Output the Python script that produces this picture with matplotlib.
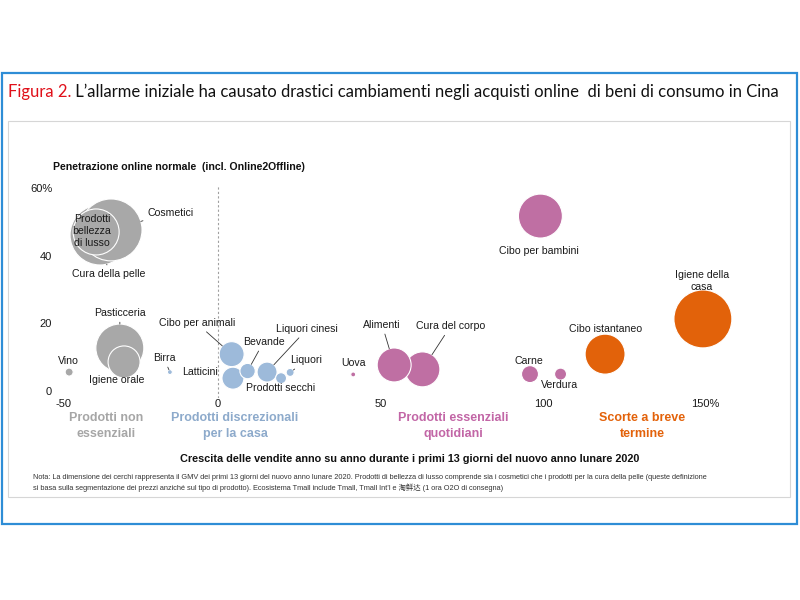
import numpy as np
import matplotlib
matplotlib.use('Agg')
import matplotlib.pyplot as plt
from matplotlib.patches import Rectangle

plt.rcParams['font.family'] = ['Liberation Sans', 'Noto Sans CJK SC', 'DejaVu Sans']

# data: crescita vendite (%), penetrazione online (%), GMV (relativo)
names = ['Cura della pelle', 'Cosmetici', 'Prodotti\nbellezza\ndi lusso', 'Pasticceria', 'Igiene orale', 'Vino',
         'Birra', 'Cibo per animali', 'Latticini', 'Bevande', 'Liquori cinesi', 'Prodotti secchi', 'Liquori',
         'Uova', 'Cura del corpo', 'Alimenti', 'Carne', 'Verdura', 'Cibo per bambini',
         'Cibo istantaneo', 'Igiene della\ncasa']
growth = [-36.3, -32.9, -37.5, -30.2, -28.9, -45.8,
          -14.8, 4.2, 4.6, 9.1, 15.1, 19.4, 22.2,
          41.6, 62.9, 54.2, 96.0, 105.4, 99.2,
          119.1, 149.2]
penetration = [46.1, 47.6, 47.0, 12.7, 8.6, 5.6,
               5.6, 10.9, 3.8, 5.9, 5.6, 3.8, 5.5,
               4.9, 6.4, 7.7, 5.0, 5.0, 51.7,
               10.9, 21.3]
gmv = [900, 960, 530, 576, 256, 16,
       6, 156, 121, 59, 100, 30, 16,
       6, 306, 289, 72, 36, 484,
       400, 841]
group = [0, 0, 0, 0, 0, 0,
         1, 1, 1, 1, 1, 1, 1,
         2, 2, 2, 2, 2, 2,
         3, 3]
groups = ['Prodotti non\nessenziali', 'Prodotti discrezionali\nper la casa',
          'Prodotti essenziali\nquotidiani', 'Scorte a breve\ntermine']
bubble_colors = ['#A8A8A8', '#9DBADA', '#BF6FA3', '#E2620A']
group_text_colors = ['#A6A6A6', '#8DAACB', '#C266A6', '#E3620A']
group_text_x = [106, 235, 453, 642]

x_ticks = [-50, 0, 50, 100, 150]
x_labels = ['-50', '0', '50', '100', '150%']
y_ticks = [0, 20, 40, 60]
y_labels = ['0', '20', '40', '60%']

# label placement: offset in pixels, alignment, leader line
label_pos = {
    'Cura della pelle': (9, -39, 'center', True),
    'Cosmetici': (36, 17, 'left', True),
    'Prodotti\nbellezza\ndi lusso': (-4, 1, 'center', False),
    'Pasticceria': (0, 35, 'center', True),
    'Igiene orale': (-7, -18, 'center', False),
    'Vino': (-1, 11, 'center', False),
    'Birra': (-6, 14, 'center', True),
    'Cibo per animali': (-35, 31, 'center', True),
    'Latticini': (-15, 6, 'right', False),
    'Bevande': (16, 29, 'center', True),
    'Liquori cinesi': (40, 43, 'center', True),
    'Prodotti secchi': (0, -10, 'center', False),
    'Liquori': (16, 12, 'center', True),
    'Uova': (0, 11, 'center', False),
    'Cura del corpo': (28, 43, 'center', True),
    'Alimenti': (-12, 40, 'center', True),
    'Carne': (-1, 13, 'center', False),
    'Verdura': (-1, -11, 'center', False),
    'Cibo per bambini': (-2, -35, 'center', False),
    'Cibo istantaneo': (0, 25, 'center', False),
    'Igiene della\ncasa': (-1, 38, 'center', False),
}

W, H = 800, 600
fig = plt.figure(figsize=(8, 6), dpi=100)

# frames
fig.add_artist(Rectangle((2 / W, 1 - 524 / H), 795 / W, 451 / H, transform=fig.transFigure,
                         fill=False, edgecolor='#2E8DD6', lw=1.6))
fig.add_artist(Rectangle((8 / W, 1 - 497 / H), 782 / W, 376 / H, transform=fig.transFigure,
                         fill=False, edgecolor='#D6D6D6', lw=0.8))

# title
title_font = ['Lato', 'DejaVu Sans']
t1 = fig.text(8 / W, 1 - 92 / H, 'Figura 2.', color='#E0101A', fontsize=12,
              family=title_font, va='center', ha='left')
fig.add_artist(plt.Annotation(' L\u2019allarme iniziale ha causato drastici cambiamenti negli acquisti online  di beni di consumo in Cina',
                              xy=(1, 0), xycoords=t1, va='bottom', ha='left', color='#111111',
                              fontsize=12, family=title_font))

ax = fig.add_axes([52.25 / W, 1 - 397.8 / H, 685.75 / W, 216.6 / H])
ax.set_xlim(-51, 160)
ax.set_ylim(-2, 62)
for s in ax.spines.values():
    s.set_visible(False)
ax.set_facecolor('none')
ax.axvline(0, ymin=0, ymax=(60.6 + 2) / 64, color='#A0A0A0', lw=0.8, ls=(0, (2, 2)), zorder=0)

sizes = np.array(gmv) * 2.07
cols = [bubble_colors[g] for g in group]
ax.scatter(growth, penetration, s=sizes, c=cols, edgecolors='white', linewidths=0.8, zorder=2)

for i, n in enumerate(names):
    dx, dy, ha, leader = label_pos[n]
    r_pt = np.sqrt(sizes[i]) / 2
    ap = dict(arrowstyle='-', color='#333333', lw=0.6, shrinkA=1, shrinkB=r_pt) if leader else None
    ax.annotate(n, xy=(growth[i], penetration[i]), xytext=(dx, dy), textcoords='offset pixels',
                ha=ha, va='center', fontsize=7.6, color='#1A1A1A', arrowprops=ap, zorder=3,
                linespacing=1.2)

ax.set_xticks(x_ticks)
ax.set_xticklabels(x_labels)
ax.set_yticks(y_ticks)
ax.set_yticklabels(y_labels)
ax.tick_params(length=0, labelsize=8, colors='#1A1A1A')
ax.tick_params(axis='x', pad=1)
ax.tick_params(axis='y', pad=0)
ax.get_xticklabels()[0].set_ha('left')

fig.text(53 / W, 1 - 167 / H, 'Penetrazione online normale  (incl. Online2Offline)', fontsize=7.6,
         weight='bold', va='center', ha='left', color='#111111')
fig.text(410 / W, 1 - 459 / H, 'Crescita delle vendite anno su anno durante i primi 13 giorni del nuovo anno lunare 2020',
         fontsize=7.8, weight='bold', va='center', ha='center', color='#111111')

for g, lab in enumerate(groups):
    fig.text(group_text_x[g] / W, 1 - 426 / H, lab, fontsize=9, weight='bold', ha='center', va='center',
             color=group_text_colors[g], linespacing=1.4)

note = ('Nota: La dimensione dei cerchi rappresenta il GMV dei primi 13 giorni del nuovo anno lunare 2020. '
        'Prodotti di bellezza di lusso comprende sia i cosmetici che i prodotti per la cura della pelle (queste definizione\n'
        'si basa sulla segmentazione dei prezzi anzich\u00e9 sul tipo di prodotto). Ecosistema Tmall include Tmall, '
        'Tmall Int\u2019l e \u6dd8\u9c9c\u8fbe (1 ora O2O di consegna)')
fig.text(33 / W, 1 - 483 / H, note, fontsize=5.3, va='center', ha='left', color='#333333', linespacing=1.4)

fig.savefig('out.png', dpi=100)
